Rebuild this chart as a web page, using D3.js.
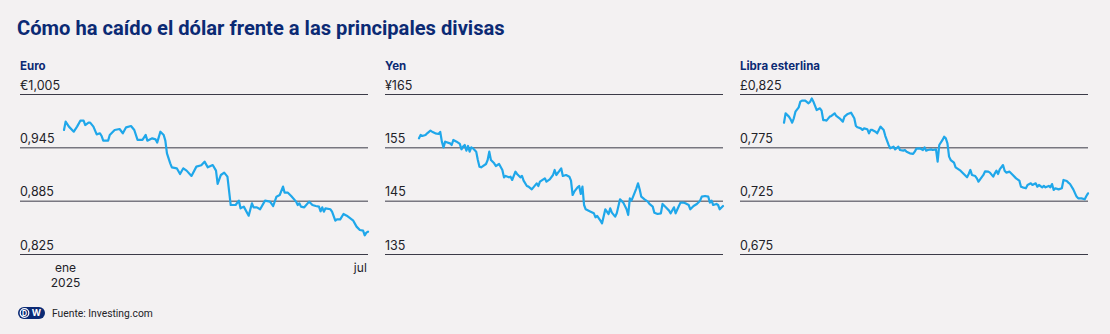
<!DOCTYPE html>
<html><head><meta charset="utf-8">
<script src="https://cdn.jsdelivr.net/npm/d3@7"></script>
<style>
html,body{margin:0;padding:0;background:#f3f1f2;}
svg{display:block;font-family:Inter,Roboto,"Noto Sans",sans-serif;}
</style></head>
<body>
<svg id="c" width="1110" height="334"></svg>
<script>
// ---------- DATA ----------
const titleText = "Cómo ha caído el dólar frente a las principales divisas";
const sourceText = "Fuente: Investing.com";
const panelNames = ["Euro", "Yen", "Libra esterlina"];
const startDate = new Date(2025, 0, 1);

const euroTicks = [0.825, 0.885, 0.945, 1.005];
const yenTicks = [135, 145, 155, 165];
const poundTicks = [0.675, 0.725, 0.775, 0.825];
const tickPrefixes = ["€", "¥", "£"];
const xTickDays = [0, 181];
const xTickLabels = [["ene", "2025"], ["jul"]];

// days after 1 Jan 2025
const euroDays = [0,1,3,6,8,10,12,13,15,16,18,20,22,23,24,27,28,31,34,36,38,41,43,45,48,50,51,54,56,57,59,61,62,63,65,66,69,71,73,75,78,81,84,86,88,91,93,94,96,98,100,102,105,107,108,110,113,115,116,118,120,123,126,128,130,132,134,135,137,139,142,143,144,145,147,150,152,154,156,157,158,159,160,163,164,166,167,169,171,173,177,179,181,183,184,185,186];
const euroValues = [0.9645,0.9739,0.9683,0.9626,0.9683,0.975,0.975,0.9701,0.9728,0.9728,0.9683,0.9596,0.9608,0.9578,0.9525,0.9525,0.9589,0.9645,0.9656,0.9608,0.9675,0.969,0.9645,0.9533,0.9533,0.9589,0.9525,0.9551,0.954,0.9503,0.9626,0.9589,0.9525,0.9383,0.927,0.9225,0.9214,0.915,0.9214,0.9188,0.9128,0.9233,0.9248,0.9289,0.9225,0.9251,0.9188,0.9038,0.9139,0.9165,0.912,0.8801,0.8801,0.885,0.8764,0.8783,0.8681,0.882,0.8775,0.8775,0.8753,0.885,0.8839,0.879,0.8895,0.8914,0.9008,0.894,0.894,0.8903,0.8839,0.8801,0.882,0.8783,0.8775,0.8839,0.8801,0.879,0.8783,0.873,0.8775,0.8726,0.8764,0.8753,0.8726,0.8625,0.864,0.864,0.87,0.8681,0.8625,0.8558,0.852,0.8513,0.846,0.849,0.8501];

const yenDays = [0,1,2,4,5,7,8,10,12,13,14,15,16,19,20,21,23,25,26,27,28,29,30,31,32,33,35,36,37,38,41,42,43,44,46,47,49,51,52,53,55,56,57,59,60,62,63,64,66,67,69,70,72,73,74,77,78,80,82,83,84,86,87,88,90,92,93,94,95,97,98,99,100,101,102,105,107,108,109,111,112,114,116,117,118,120,121,123,125,127,128,129,130,131,133,134,135,136,138,140,141,143,144,146,148,149,151,153,154,156,157,159,160,162,163,165,166,168,170,172,173,175,177,178,179,180,182,183,184,186];
const yenValues = [156.69,157.31,157.13,157.31,157.63,158.13,157.94,157.63,157.5,157.88,156.06,155.0,156.06,155.75,155.44,156.38,156.06,155.63,154.63,155.13,155.44,154.38,155.25,154.19,155.0,154.81,154.19,152.63,151.38,151.25,151.88,152.63,154.19,152.63,152.0,151.5,151.88,150.75,149.38,149.63,149.38,149.5,148.88,150.44,150.0,149.38,149.63,148.75,147.75,147.63,147.13,147.5,148.25,147.75,148.56,149.19,148.56,149.0,149.81,150.75,149.81,150.63,151.06,149.63,149.81,149.5,148.75,146.06,146.69,147.5,147.75,146.25,147.63,144.19,143.38,142.94,142.63,141.88,142.13,141.25,140.75,143.38,142.5,143.56,142.75,142.0,142.63,145.25,144.63,143.38,142.31,145.44,145.0,145.75,147.31,148.25,147.13,145.75,145.25,144.81,144.38,143.88,142.75,142.5,142.63,144.38,143.75,143.13,142.63,143.75,142.63,144.0,144.63,144.63,144.5,144.19,143.38,144.0,144.38,145.0,145.75,145.88,145.75,144.63,145.0,144.19,144.38,144.19,143.38,144.0];

const poundDays = [0,1,3,4,5,6,7,9,10,11,13,15,16,17,18,19,20,22,23,24,25,26,28,29,31,32,34,36,37,39,41,43,44,45,47,48,49,51,52,53,54,56,57,58,59,61,62,64,65,67,68,70,71,73,74,75,77,79,80,81,83,85,86,87,88,90,91,93,94,95,97,98,99,100,101,102,104,105,108,110,112,113,114,115,117,118,119,120,122,123,125,126,128,129,130,131,132,134,135,136,138,140,142,144,145,146,148,149,151,152,154,155,156,158,159,160,162,163,164,165,166,168,170,171,173,174,175,177,179,180,182,184,185,186];
const poundValues = [0.7981,0.8069,0.8038,0.8013,0.7981,0.8022,0.8084,0.8125,0.8178,0.8188,0.8188,0.8163,0.8178,0.8209,0.8178,0.8138,0.81,0.8116,0.8094,0.8006,0.8006,0.8,0.8038,0.8044,0.8069,0.8044,0.8022,0.7991,0.8038,0.8063,0.8075,0.8022,0.795,0.7938,0.7928,0.7913,0.7928,0.7919,0.7881,0.7913,0.7913,0.7897,0.7881,0.7913,0.7944,0.7913,0.7856,0.7772,0.7741,0.7756,0.7731,0.7756,0.7725,0.7719,0.7725,0.7709,0.7694,0.7688,0.7709,0.7738,0.7741,0.7725,0.775,0.7719,0.7725,0.7731,0.7725,0.7731,0.7616,0.7772,0.7819,0.785,0.7834,0.7788,0.7663,0.7631,0.7606,0.7563,0.7531,0.75,0.7469,0.75,0.7538,0.7491,0.7481,0.7459,0.7428,0.745,0.7491,0.7525,0.7522,0.7513,0.7475,0.7506,0.7531,0.75,0.7544,0.7584,0.7531,0.7513,0.7522,0.7491,0.7459,0.7438,0.7381,0.7375,0.7366,0.7397,0.7413,0.7397,0.7413,0.7381,0.7397,0.7375,0.7388,0.7375,0.7388,0.7375,0.7406,0.735,0.7366,0.7356,0.7366,0.7444,0.7434,0.7419,0.7406,0.7356,0.7288,0.7272,0.7272,0.7263,0.7294,0.7319];

// ---------- DRAW ----------
const NAVY = "#0b2a74", LINE = "#1fa7ea", TXT = "#222228", GRID = "#3b3b48";
const svg = d3.select("#c");
svg.append("rect").attr("width",1110).attr("height",334).attr("fill","#f3f1f2");

function fitText(sel, baseSize, width) {
  const w = sel.node().getComputedTextLength();
  sel.attr("font-size", baseSize * width / w);
}

const title = svg.append("text").attr("x",17).attr("y",35)
  .attr("fill",NAVY).attr("font-weight",700).attr("font-size",22)
  .attr("font-family","Roboto,Inter,sans-serif")
  .text(titleText);
fitText(title, 22, 488);

const fmtTick = (v, i, prefix) => {
  const s = Number.isInteger(v) ? String(v) : d3.format(".3f")(v).replace(".", ",");
  return (i === 0 ? prefix : "") + s;
};

const panels = [
  {name: panelNames[0], days: euroDays, values: euroValues, ticks: euroTicks, prefix: tickPrefixes[0], gx0: 20, gx1: 368, dx0: 64, dx1: 368, xAxis: true},
  {name: panelNames[1], days: yenDays, values: yenValues, ticks: yenTicks, prefix: tickPrefixes[1], gx0: 385, gx1: 723, dx0: 419, dx1: 723, xAxis: false},
  {name: panelNames[2], days: poundDays, values: poundValues, ticks: poundTicks, prefix: tickPrefixes[2], gx0: 740, gx1: 1088, dx0: 784, dx1: 1088, xAxis: false}
];

const endDate = d3.timeDay.offset(startDate, 186);

panels.forEach(p => {
  const g = svg.append("g");
  const x = d3.scaleTime().domain([startDate, endDate]).range([p.dx0, p.dx1]);
  const y = d3.scaleLinear().domain([p.ticks[0], p.ticks[p.ticks.length-1]]).range([254, 94]);

  g.append("text").attr("x", p.gx0).attr("y", 70).attr("fill", NAVY)
    .attr("font-weight", 700).attr("font-size", 11.5).text(p.name);

  const tickList = p.ticks.slice().reverse();
  const yAxis = d3.axisRight(y).tickValues(p.ticks).tickSize(p.gx1 - p.gx0)
    .tickFormat(v => fmtTick(v, tickList.indexOf(v), p.prefix));
  const ya = g.append("g").attr("transform", `translate(${p.gx0},0)`).call(yAxis);
  ya.select(".domain").remove();
  ya.selectAll(".tick line").attr("stroke", GRID).attr("stroke-width", 1);
  ya.selectAll(".tick text").attr("x", 0).attr("dy", -5).attr("text-anchor", "start")
    .attr("fill", TXT).attr("font-size", 12.5).attr("font-family", "Inter,Roboto,sans-serif");

  const data = p.days.map((d, i) => ({date: d3.timeDay.offset(startDate, d), v: p.values[i]}));
  g.append("path").datum(data)
    .attr("fill", "none").attr("stroke", LINE).attr("stroke-width", 2.2)
    .attr("stroke-linejoin", "round").attr("stroke-linecap", "round")
    .attr("d", d3.line().x(d => x(d.date)).y(d => y(d.v)));

  if (p.xAxis) {
    const xa = g.append("g").attr("transform", "translate(0,254)")
      .call(d3.axisBottom(x).tickValues(xTickDays.map(d => d3.timeDay.offset(startDate, d))).tickSize(0).tickFormat(""));
    xa.select(".domain").remove();
    xa.selectAll(".tick").each(function(d, i) {
      const t = d3.select(this).append("text").attr("fill", TXT).attr("font-size", 12)
        .attr("text-anchor", "middle").attr("font-family", "Inter,Roboto,sans-serif");
      xTickLabels[i].forEach((s, j) => {
        t.append("tspan").attr("x", i === 1 ? 0 : 1).attr("y", 18 + j * 14.5).text(s);
      });
    });
  }
});

// footer: DW logo + source
const logo = svg.append("g").attr("transform", "translate(18,307)");
logo.append("rect").attr("width", 27).attr("height", 12).attr("rx", 6).attr("fill", NAVY);
logo.append("circle").attr("cx", 6.5).attr("cy", 6).attr("r", 4.3).attr("fill", "none").attr("stroke", "#fff").attr("stroke-width", 1.2);
logo.append("text").attr("x", 6.5).attr("y", 8.6).attr("text-anchor", "middle").attr("fill", "#fff")
  .attr("font-size", 7).attr("font-weight", 700).text("D");
logo.append("text").attr("x", 18.5).attr("y", 9).attr("text-anchor", "middle").attr("fill", "#fff")
  .attr("font-size", 9).attr("font-weight", 700).text("W");
const src = svg.append("text").attr("x", 52).attr("y", 317).attr("fill", TXT).attr("font-size", 11)
  .attr("font-family", "Roboto,Inter,sans-serif").text(sourceText);
fitText(src, 11, 101);
</script>
</body></html>
